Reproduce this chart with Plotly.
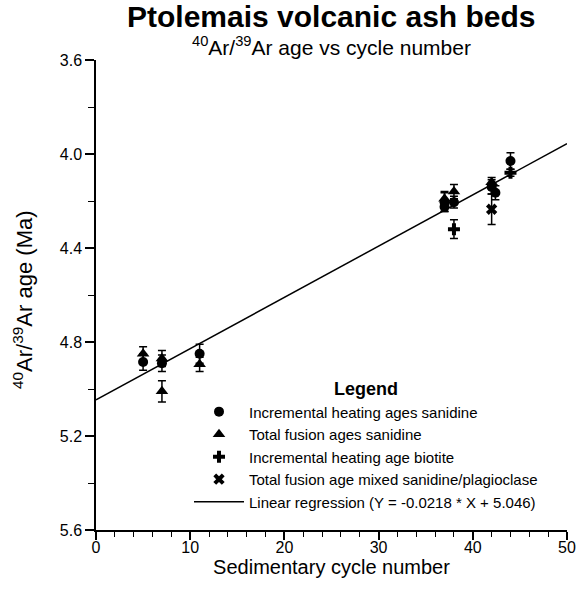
import plotly.graph_objects as go

# ---- data ----
cyc_ih_san = [5, 7, 11, 37, 37, 38, 42, 42.4, 44]
age_ih_san = [4.885, 4.89, 4.85, 4.205, 4.225, 4.205, 4.14, 4.165, 4.03]
err_ih_san = [0.035, 0.035, 0.04, 0.04, 0.02, 0.025, 0.03, 0.03, 0.035]

cyc_tf_san = [5, 7, 7, 11, 37, 38, 42]
age_tf_san = [4.85, 4.87, 5.01, 4.895, 4.19, 4.16, 4.12]
err_tf_san = [0.03, 0.034, 0.045, 0.03, 0.03, 0.03, 0.02]

cyc_ih_bio = [38, 44]
age_ih_bio = [4.32, 4.08]
err_ih_bio = [0.04, 0.015]

cyc_tf_mix = [42]
age_tf_mix = [4.235]
err_tf_mix = [0.065]

reg_slope = -0.0218
reg_intercept = 5.046
reg_x = [0, 50]

x_ticks = [0, 10, 20, 30, 40, 50]
y_ticks = [3.6, 4.0, 4.4, 4.8, 5.2, 5.6]

FONT = "Liberation Sans, Arial, Helvetica, sans-serif"

def err(vals):
    return dict(type="data", array=vals, visible=True, color="black",
                thickness=1.5, width=4)

fig = go.Figure()
fig.add_trace(go.Scatter(
    x=cyc_ih_san, y=age_ih_san, mode="markers", name="Incremental heating ages sanidine",
    marker=dict(symbol="circle", size=10, color="black"),
    error_y=err(err_ih_san)))
fig.add_trace(go.Scatter(
    x=cyc_tf_san, y=age_tf_san, mode="markers", name="Total fusion ages sanidine",
    marker=dict(symbol="triangle-up", size=11, color="black"),
    error_y=err(err_tf_san)))
fig.add_trace(go.Scatter(
    x=cyc_ih_bio, y=age_ih_bio, mode="markers", name="Incremental heating age biotite",
    marker=dict(symbol="cross", size=10, color="black"),
    error_y=err(err_ih_bio)))
fig.add_trace(go.Scatter(
    x=cyc_tf_mix, y=age_tf_mix, mode="markers", name="Total fusion age mixed sanidine/plagioclase",
    marker=dict(symbol="x", size=10, color="black"),
    error_y=err(err_tf_mix)))
fig.add_trace(go.Scatter(
    x=reg_x, y=[reg_slope * v + reg_intercept for v in reg_x], mode="lines",
    name="Linear regression (Y = -0.0218 * X + 5.046)",
    line=dict(color="black", width=1.5)))

fig.update_layout(
    width=578, height=598,
    margin=dict(l=96, r=11, t=60, b=68),
    paper_bgcolor="white", plot_bgcolor="white",
    font=dict(family=FONT, color="black", size=16),
    showlegend=True,
    legend=dict(
        x=(189 - 96) / 471, y=(530 - 372) / 470, xanchor="left", yanchor="top",
        bgcolor="rgba(0,0,0,0)",
        itemwidth=50,
        font=dict(family=FONT, size=15, color="black"),
        title=dict(text="<b>Legend</b>", side="top center",
                   font=dict(family=FONT, size=18, color="black")),
        tracegroupgap=0,
    ),
    xaxis=dict(
        range=[0, 50], tickvals=x_ticks, showgrid=False, zeroline=False,
        automargin=False,
        showline=True, linecolor="black", linewidth=1.5,
        ticks="outside", ticklen=8, tickwidth=1.5, tickcolor="black",
        ticklabelstandoff=-6,
        tickfont=dict(size=16),
        minor=dict(dtick=2, ticks="outside", ticklen=5, tickwidth=1, tickcolor="black"),
        title=dict(text="Sedimentary cycle number", font=dict(size=20), standoff=2),
    ),
    yaxis=dict(
        range=[5.6, 3.6], tickvals=y_ticks, tickformat=".1f",
        automargin=False,
        showgrid=False, zeroline=False,
        showline=True, linecolor="black", linewidth=1.5,
        ticks="outside", ticklen=9, tickwidth=1.5, tickcolor="black",
        tickfont=dict(size=16),
        minor=dict(dtick=0.2, ticks="outside", ticklen=6, tickwidth=1, tickcolor="black"),
    ),
    annotations=[
        dict(text="<b>Ptolemais volcanic ash beds</b>", xref="paper", yref="paper",
             x=0.5, y=(530 - 17) / 470, xanchor="center", yanchor="middle", showarrow=False,
             font=dict(family=FONT, size=30, color="black")),
        dict(text="<sup>40</sup>Ar/<sup>39</sup>Ar age vs cycle number", xref="paper", yref="paper",
             x=0.5, y=(530 - 46) / 470, xanchor="center", yanchor="middle", showarrow=False,
             font=dict(family=FONT, size=21, color="black")),
        dict(text="<sup>40</sup>Ar/<sup>39</sup>Ar age (Ma)", xref="paper", yref="paper",
             x=(23 - 96) / 471, y=(530 - 300) / 470, xanchor="center", yanchor="middle",
             textangle=-90, showarrow=False,
             font=dict(family=FONT, size=22, color="black")),
    ],
)

fig.write_html("out.html")
